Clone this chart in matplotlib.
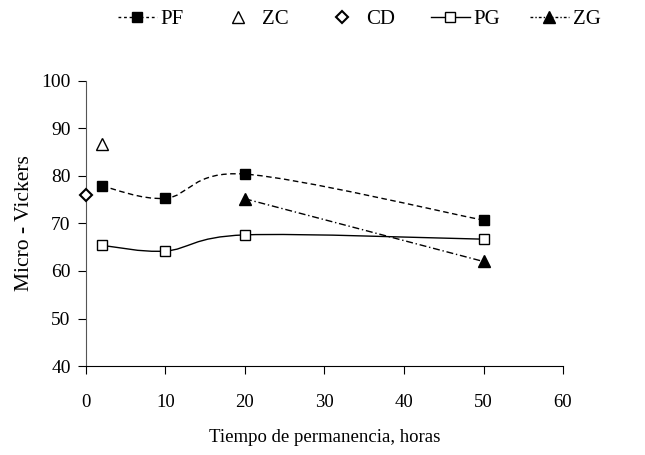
import matplotlib.pyplot as plt
import numpy as np
from matplotlib.path import Path
from matplotlib.patches import PathPatch

plt.rcParams['font.family'] = ['Liberation Serif', 'DejaVu Serif']

# data
pf_x = [2, 10, 20, 50]
pf_y = [77.9, 75.3, 80.4, 70.7]
zc_x = [2]
zc_y = [86.8]
cd_x = [0]
cd_y = [76.0]
pg_x = [2, 10, 20, 50]
pg_y = [65.4, 64.2, 67.6, 66.7]
zg_x = [20, 50]
zg_y = [75.2, 62.0]

labels = ['PF', 'ZC', 'CD', 'PG', 'ZG']


def smooth_path(xs, ys):
    # Excel-style smoothed line: cubic bezier through the points
    p = np.column_stack([xs, ys]).astype(float)
    verts = [p[0]]
    codes = [Path.MOVETO]
    n = len(p)
    for i in range(n - 1):
        p0 = p[i - 1] if i > 0 else p[i]
        p3 = p[i + 2] if i + 2 < n else p[i + 1]
        c1 = p[i] + (p[i + 1] - p0) / 6
        c2 = p[i + 1] - (p3 - p[i]) / 6
        verts += [c1, c2, p[i + 1]]
        codes += [Path.CURVE4] * 3
    return Path(verts, codes)


dash_pf = (0, (4, 2.5))
dash_zg = (0, (5, 2, 1, 2))

fig = plt.figure(figsize=(6.45, 4.55), dpi=100)
ax = fig.add_axes([0.1333, 0.1956, 0.7396, 0.6264])

ax.add_patch(PathPatch(smooth_path(pf_x, pf_y), fill=False, lw=1, ls=dash_pf, color='black'))
ax.add_patch(PathPatch(smooth_path(pg_x, pg_y), fill=False, lw=1, ls='-', color='black'))
ax.add_patch(PathPatch(smooth_path(zg_x, zg_y), fill=False, lw=1, ls=dash_zg, color='black'))

ax.plot(pf_x, pf_y, 's', color='black', ms=7.5, clip_on=False, zorder=3)
ax.plot(zc_x, zc_y, '^', mfc='white', mec='black', ms=8.5, clip_on=False, zorder=3)
ax.plot(cd_x, cd_y, 'D', mfc='white', mec='black', ms=6.5, mew=1.5, clip_on=False, zorder=3)
ax.plot(pg_x, pg_y, 's', mfc='white', mec='black', ms=7.5, clip_on=False, zorder=3)
ax.plot(zg_x, zg_y, '^', color='black', ms=8.5, clip_on=False, zorder=3)

# legend proxies, one small legend per entry like the original layout
h_pf, = ax.plot([], [], marker='s', color='black', ms=7, lw=1, ls=(0, (2, 2)))
h_zc, = ax.plot([], [], marker='^', mfc='white', mec='black', ms=8, ls='none')
h_cd, = ax.plot([], [], marker='D', mfc='white', mec='black', ms=6, mew=1.5, ls='none')
h_pg, = ax.plot([], [], marker='s', mfc='white', mec='black', color='black', ms=7, lw=1)
h_zg, = ax.plot([], [], marker='^', color='black', ms=8, lw=1, ls=(0, (2, 1.5, 1, 1.5)))
handles = [h_pf, h_zc, h_cd, h_pg, h_zg]
starts = [118, 219, 323, 431, 530]
for h, lab, x0 in zip(handles, labels, starts):
    fig.legend([h], [lab], loc='center left', bbox_to_anchor=(x0 / 645, 0.958),
               frameon=False, fontsize=15, handlelength=1.85, handletextpad=0.2,
               borderpad=0, borderaxespad=0)

ax.set_xlim(0, 60)
ax.set_ylim(40, 100)
ax.set_xticks(range(0, 61, 10))
ax.set_yticks(range(40, 101, 10))
ax.spines['top'].set_visible(False)
ax.spines['right'].set_visible(False)
ax.spines['left'].set_color('#555555')
ax.tick_params(axis='y', labelsize=14, direction='out', length=6, pad=5)
ax.tick_params(axis='x', labelsize=13.5, direction='out', length=6, pad=14)
ax.set_xlabel('Tiempo de permanencia, horas', fontsize=13.5, labelpad=13)
ax.set_ylabel('Micro - Vickers', fontsize=15.5, labelpad=5)

fig.savefig('out.png')
